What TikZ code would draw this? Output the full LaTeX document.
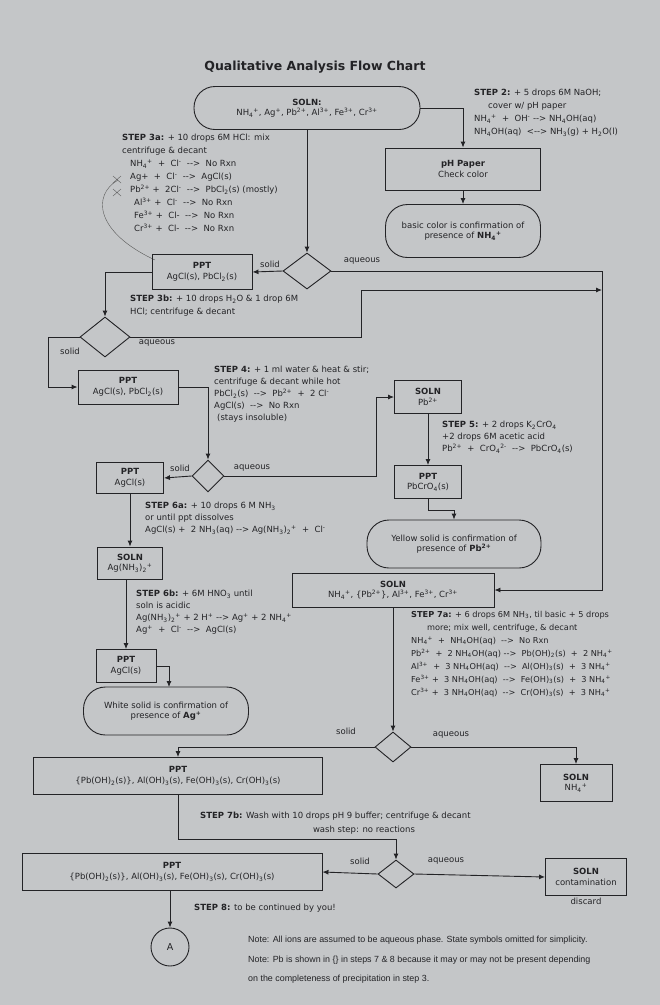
\documentclass[tikz,border=0pt]{standalone}
\usepackage{fontspec}
\setmainfont{DejaVu Sans}
\newfontfamily\notefont{Liberation Sans}
\usetikzlibrary{arrows.meta,shapes.geometric}
\newcommand\mysp[1]{\textsuperscript{#1}}
\newcommand\mysb[1]{\textsubscript{#1}}
\newcommand\rx{-{}->}
\newcommand\rxx{<-{}->}
\newcommand\fsz{\fontsize{8.5}{10.5}\selectfont}
\definecolor{paper}{RGB}{196,198,200}
\definecolor{ink}{RGB}{35,35,38}
\begin{document}
\begin{tikzpicture}[x=1pt,y=-1pt,
  box/.style={draw=ink, text=ink, line width=0.9pt, inner sep=1pt, align=center, font=\fsz},
  rbox/.style={box, rounded corners=21pt},
  dia/.style={draw=ink, diamond, line width=0.9pt, inner sep=0pt},
  arr/.style={draw=ink, line width=0.9pt, -{Latex[length=6pt,width=5pt]}},
  ln/.style={draw=ink, line width=0.9pt},
  lab/.style={text=ink, font=\fsz, inner sep=1pt},
  txt/.style={text=ink, anchor=north west, align=left, inner sep=0pt, font=\fontsize{8.5}{13}\selectfont},
  txtb/.style={txt, font=\fontsize{8.5}{12}\selectfont}]
\fill[paper] (0,0) rectangle (660,1005);
\useasboundingbox (0,0) rectangle (660,1005);

\node[text=ink, font=\fontsize{12.5}{14}\selectfont\bfseries] (title) at (315,67) {Qualitative Analysis Flow Chart};

% top
\node[rbox, minimum width=226, minimum height=43] (soln) at (307,108)
 {\textbf{SOLN:}\\NH\mysb4\mysp+, Ag\mysp+, Pb\mysp{2+}, Al\mysp{3+}, Fe\mysp{3+}, Cr\mysp{3+}};
\node[box, minimum width=155, minimum height=42] (ph) at (463,169) {\textbf{pH Paper}\\Check color};
\node[rbox, rounded corners=22pt, minimum width=155, minimum height=53] (basic) at (463,231)
 {basic color is confirmation of\\presence of \textbf{NH\mysb4\mysp+}};
\draw[arr] (soln.east) -| (ph.north);
\draw[arr] (ph) -- (basic);

\node[txt] (s2) at (474,89) {\textbf{STEP 2:} + 5 drops 6M NaOH;\\\hspace*{14pt}cover w/ pH paper\\NH\mysb4\mysp+ \ + \ OH\mysp- \rx\ NH\mysb4OH(aq)\\NH\mysb4OH(aq) \ \rxx\ NH\mysb3(g) + H\mysb2O(l)};

\node[txt] (s3a) at (122,134) {\textbf{STEP 3a:} + 10 drops 6M HCl: mix\\centrifuge \& decant\\
\hspace*{8pt}NH\mysb4\mysp+ \ + \ Cl\mysp- \ \rx\ \ No Rxn\\
\hspace*{8pt}Ag+ \ + \ Cl\mysp- \ \rx\ \ AgCl(s)\\
\hspace*{8pt}Pb\mysp{2+} + \ 2Cl\mysp- \ \rx\ \ PbCl\mysb2(s) (mostly)\\
\hspace*{12pt}Al\mysp{3+} + \ Cl\mysp- \ \rx\ \ No Rxn\\
\hspace*{12pt}Fe\mysp{3+} + \ Cl- \ \rx\ \ No Rxn\\
\hspace*{12pt}Cr\mysp{3+} + \ Cl- \ \rx\ \ No Rxn};
\draw[gray!70!black, line width=0.4pt] (118,180) .. controls (92,195) and (95,232) .. (155,260);
\draw[gray!70!black, line width=0.4pt] (113,176)--(121,183) (113,183)--(121,176) (113,189)--(121,196) (113,196)--(121,189);

\node[dia, minimum width=48, minimum height=36] (d1) at (307,271) {};
\draw[arr] (soln) -- (d1);
\node[box, minimum width=100, minimum height=35] (b1) at (202,272) {\textbf{PPT}\\AgCl(s), PbCl\mysb2(s)};
\draw[arr] (d1.west) -- (b1.east);
\node[lab] at (270,264) {solid};
\node[lab] at (362,261) {aqueous};
\coordinate (v1) at (602,271);
\coordinate (v2) at (602,590);
\coordinate (v3) at (602,290);

\node[txt] (s3b) at (130,295) {\textbf{STEP 3b:} + 10 drops H\mysb2O \& 1 drop 6M\\HCl; centrifuge \& decant};
\node[dia, minimum width=50, minimum height=40] (d2) at (105,337) {};
\draw[arr] (b1.west) -| (d2.north);
\node[box, minimum width=100, minimum height=34] (b2) at (128,387) {\textbf{PPT}\\AgCl(s), PbCl\mysb2(s)};
\draw[arr] (d2.west) -- (48,337) |- (b2.west);
\node[lab] at (70,351) {solid};
\draw[arr] (d2.east) -- (361,337) -- (361,290) -- (v3);
\node[lab] at (157,343) {aqueous};

\node[txtb] (s4) at (214,366) {\textbf{STEP 4:} + 1 ml water \& heat \& stir;\\centrifuge \& decant while hot\\PbCl\mysb2(s) \ \rx\ \ Pb\mysp{2+} \ + \ 2 Cl\mysp-\\AgCl(s) \ \rx\ \ No Rxn\\\hspace*{3pt}(stays insoluble)};
\node[dia, minimum width=32, minimum height=32] (d3) at (208,476) {};
\draw[arr] (b2.east) -| (d3.north);
\node[box, minimum width=67, minimum height=31] (b3) at (130,478) {\textbf{PPT}\\AgCl(s)};
\draw[arr] (d3.west) -- (b3.east);
\node[lab] at (180,468) {solid};
\node[box, minimum width=67, minimum height=33] (spb) at (428,397) {\textbf{SOLN}\\Pb\mysp{2+}};
\draw[arr] (d3.east) -- (376,476) |- (spb.west);
\node[lab] at (252,468) {aqueous};
\node[txtb] (s5) at (442,421) {\textbf{STEP 5:} + 2 drops K\mysb2CrO\mysb4\\+2 drops 6M acetic acid\\Pb\mysp{2+} \ + \ CrO\mysb4\mysp{2-} \ \rx\ \ PbCrO\mysb4(s)};
\node[box, minimum width=67, minimum height=33] (pcr) at (428,482) {\textbf{PPT}\\PbCrO\mysb4(s)};
\draw[arr] (spb) -- (pcr);
\node[rbox, rounded corners=22pt, minimum width=174, minimum height=48] (yel) at (454,544) {Yellow solid is confirmation of\\presence of \textbf{Pb\mysp{2+}}};
\draw[arr] (pcr.south) -- ++(0,11) -| (yel.north);

\node[txtb] (s6a) at (145,502) {\textbf{STEP 6a:} + 10 drops 6 M NH\mysb3\\or until ppt dissolves\\AgCl(s) + \ 2 NH\mysb3(aq) \rx\ Ag(NH\mysb3)\mysb2\mysp+ \ + \ Cl\mysp-};
\node[box, minimum width=65, minimum height=32] (sag) at (130,563) {\textbf{SOLN}\\Ag(NH\mysb3)\mysb2\mysp+};
\draw[arr] (b3) -- (sag);
\node[txtb] (s6b) at (136,590) {\textbf{STEP 6b:} + 6M HNO\mysb3 until\\soln is acidic\\Ag(NH\mysb3)\mysb2\mysp+ + 2 H\mysp+ \rx\ Ag\mysp+ + 2 NH\mysb4\mysp+\\Ag\mysp+ \ + \ Cl\mysp- \ \rx\ \ AgCl(s)};
\node[box, minimum width=60, minimum height=33] (b4) at (126,666) {\textbf{PPT}\\AgCl(s)};
\draw[arr] (sag.south -| b4.north) -- (b4.north);
\node[rbox, rounded corners=22pt, minimum width=165, minimum height=48] (wht) at (166,711) {White solid is confirmation of\\presence of \textbf{Ag\mysp+}};
\draw[arr] (b4.east) -- (169,666) -- (169,687);

\node[box, minimum width=202, minimum height=34] (big) at (393,590) {\textbf{SOLN}\\NH\mysb4\mysp+, \{Pb\mysp{2+}\}, Al\mysp{3+}, Fe\mysp{3+}, Cr\mysp{3+}};
\draw[arr] (d1.east) -- (v1) -- (v2) -- (big.east);
\node[txt, font=\fontsize{8.2}{13}\selectfont] (s7a) at (411,611) {\textbf{STEP 7a:} + 6 drops 6M NH\mysb3, til basic + 5 drops\\\hspace*{16pt}more; mix well, centrifuge, \& decant\\
NH\mysb4\mysp+ \ + \ NH\mysb4OH(aq) \ \rx\ \ No Rxn\\
Pb\mysp{2+} \ + \ 2 NH\mysb4OH(aq) \rx\ \ Pb(OH)\mysb2(s) \ + \ 2 NH\mysb4\mysp+\\
Al\mysp{3+} \ + \ 3 NH\mysb4OH(aq) \ \rx\ \ Al(OH)\mysb3(s) \ + \ 3 NH\mysb4\mysp+\\
Fe\mysp{3+} + \ 3 NH\mysb4OH(aq) \ \rx\ \ Fe(OH)\mysb3(s) \ + \ 3 NH\mysb4\mysp+\\
Cr\mysp{3+} + \ 3 NH\mysb4OH(aq) \ \rx\ \ Cr(OH)\mysb3(s) \ + \ 3 NH\mysb4\mysp+};

\node[dia, minimum width=36, minimum height=30] (d4) at (393,747) {};
\draw[arr] (big) -- (d4);
\node[lab] at (346,731) {solid};
\node[lab] at (451,735) {aqueous};
\node[box, minimum width=289, minimum height=37] (p7) at (178,776) {\textbf{PPT}\\\{Pb(OH)\mysb2(s)\}, Al(OH)\mysb3(s), Fe(OH)\mysb3(s), Cr(OH)\mysb3(s)};
\node[box, minimum width=72, minimum height=37] (nh4) at (576,783) {\textbf{SOLN}\\NH\mysb4\mysp+};
\draw[arr] (d4.west) -| (p7.north);
\draw[arr] (d4.east) -| (nh4.north);

\node[lab, anchor=west] (s7b) at (199,816) {\textbf{STEP 7b:} Wash with 10 drops pH 9 buffer; centrifuge \& decant};
\node[lab] (s7c) at (364,830) {wash step: no reactions};
\coordinate (k7) at (178,839);
\node[dia, minimum width=36, minimum height=28] (d5) at (396,874) {};
\draw[arr] (p7.south) -- (k7) -| (d5.north);
\node[box, minimum width=300, minimum height=37] (p8) at (172,872) {\textbf{PPT}\\\{Pb(OH)\mysb2(s)\}, Al(OH)\mysb3(s), Fe(OH)\mysb3(s), Cr(OH)\mysb3(s)};
\node[box, minimum width=81, minimum height=37] (cont) at (586,877) {\textbf{SOLN}\\contamination};
\node[lab] (disc) at (586,901) {discard};
\draw[arr] (d5.west) -- (p8.east);
\draw[arr] (d5.east) -- (cont.west);
\node[lab] at (360,861) {solid};
\node[lab] at (446,861) {aqueous};
\node[lab, anchor=west] (s8) at (193,908) {\textbf{STEP 8:} to be continued by you!};
\node[draw=ink, line width=0.9pt, circle, minimum size=38, inner sep=0, text=ink, font=\fontsize{9.5}{10}\selectfont] (A) at (170,947) {A};
\draw[arr] (p8.south -| A.north) -- (A.north);

\node[text=ink, anchor=west, inner sep=0, font=\notefont\fontsize{8.9}{10}\selectfont] (n1) at (248,940) {Note: All ions are assumed to be aqueous phase. State symbols omitted for simplicity.};
\node[text=ink, anchor=west, inner sep=0, font=\notefont\fontsize{8.9}{10}\selectfont] (n2) at (248,960) {Note: Pb is shown in \{\} in steps 7 \& 8 because it may or may not be present depending};
\node[text=ink, anchor=west, inner sep=0, font=\notefont\fontsize{8.9}{10}\selectfont] (n3) at (248,979) {on the completeness of precipitation in step 3.};
\end{tikzpicture}
\end{document}
